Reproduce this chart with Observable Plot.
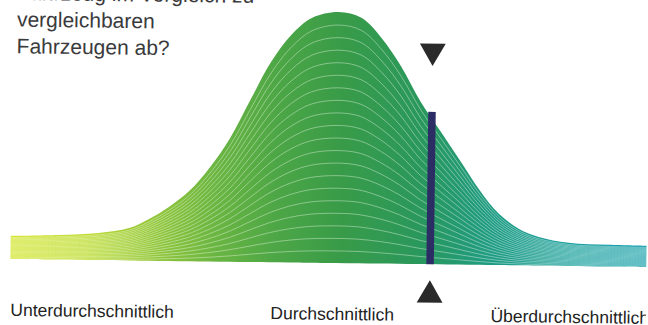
<!DOCTYPE html>
<html>
<head>
<meta charset="utf-8">
<script src="https://cdn.jsdelivr.net/npm/d3@7"></script>
<script src="https://cdn.jsdelivr.net/npm/@observablehq/plot@0.6"></script>
<style>
  html, body { margin: 0; padding: 0; background: #fff; overflow: hidden; }
  #chart svg { display: block; transform: rotate(0.72deg); transform-origin: 337px 140px; }
</style>
</head>
<body>
<div id="chart"></div>
<script>
// Heading (first line is cut off at the top edge in the reference)
const headingLines = ["Fahrzeug im Vergleich zu", "vergleichbaren", "Fahrzeugen ab?"];

// Category labels along the score axis and where each label starts
const categories = ["Unterdurchschnittlich", "Durchschnittlich", "Überdurchschnittlich"];
const categoryPositions = [0, 40.9, 75.5];

// Bell curve outline: score position (0–100) and relative height (0–1)
const positions = [0, 7.5, 13.8, 18.6, 21.7, 24.8, 28, 31.1, 34.3, 37.4, 40.6, 43.7, 46.9, 51.1,
                   54.7, 57.9, 61, 64.2, 67.3, 70.4, 73.6, 76.7, 79.9, 83, 87.7, 94, 100];
const heights   = [0.092, 0.098, 0.108, 0.129, 0.166, 0.215, 0.280, 0.372, 0.493, 0.645, 0.798, 0.906, 0.975, 1.0,
                   0.978, 0.899, 0.788, 0.646, 0.532, 0.417, 0.298, 0.204, 0.145, 0.114, 0.092, 0.086, 0.084];

// Number of stacked bands in the curve
const layerCount = 20;

// Own vehicle marker
const markerPosition = 65.9;
const markerHeight = 0.607;

const profile = positions.map((x, i) => ({x, h: heights[i]}));
const layers = d3.range(1, layerCount).flatMap(k =>
  profile.map(p => ({layer: k, x: p.x, h: p.h * k / layerCount})));
const marker = [{x: markerPosition, h: markerHeight}];

const plot = Plot.plot({
  width: 648,
  height: 325,
  marginTop: 0,
  marginRight: 0,
  marginBottom: 20,
  marginLeft: 0,
  x: {domain: [0, 100], range: [12, 648], axis: null},
  y: {domain: [0, 1], range: [263, 12], axis: null},
  style: {fontFamily: "'Liberation Sans', Arial, sans-serif", background: "white", overflow: "hidden"},
  marks: [
    Plot.areaY(profile, {x: "x", y: "h", fill: "url(#bellGrad)", curve: "catmull-rom"}),
    Plot.line(layers, {x: "x", y: "h", z: "layer", stroke: "#f4fff0", strokeOpacity: 0.5,
                       strokeWidth: 0.8, curve: "catmull-rom"}),
    Plot.ruleX(marker, {x: "x", y1: 0, y2: "h", stroke: "#2d2d66", strokeWidth: 7.5}),
    Plot.dot(marker, {x: "x", y: "h", dy: -61.3, symbol: "triangle", rotate: 180, r: 9.6,
                      fill: "#2a2a2a", stroke: null}),
    Plot.dot(marker, {x: "x", y: 0, dy: 30.4, symbol: "triangle", r: 9.6,
                      fill: "#2a2a2a", stroke: null}),
    Plot.text([headingLines.join("\n")], {frameAnchor: "top-left", dx: 15, dy: -15.5,
                      textAnchor: "start", lineAnchor: "top", fontSize: 21, lineHeight: 1.27,
                      fill: "#3a3a3c"}),
    Plot.axisX({ticks: categoryPositions, tickFormat: (d, i) => categories[i], tickSize: 0,
                tickPadding: 2, textAnchor: "start", fontSize: 17.5, label: null,
                anchor: "bottom", fill: "#222"})
  ]
});

const defs = d3.select(plot).insert("defs", ":first-child");
const grad = defs.append("linearGradient")
  .attr("id", "bellGrad")
  .attr("gradientUnits", "userSpaceOnUse")
  .attr("x1", 12).attr("x2", 648).attr("y1", 0).attr("y2", 0);
[
  [0, "#d8e633"], [0.12, "#c0dc36"], [0.22, "#96c83c"], [0.32, "#6bb642"],
  [0.42, "#4ca646"], [0.52, "#389b48"], [0.64, "#2a985c"], [0.76, "#1f9c86"],
  [0.88, "#1a9ea0"], [1, "#199fb2"]
].forEach(([o, c]) => grad.append("stop").attr("offset", o).attr("stop-color", c));

document.getElementById("chart").appendChild(plot);
</script>
</body>
</html>
